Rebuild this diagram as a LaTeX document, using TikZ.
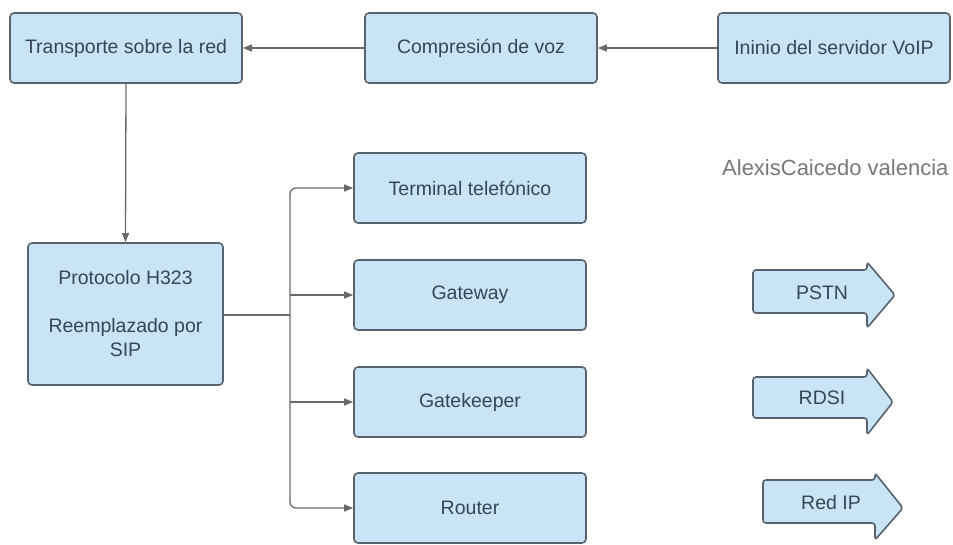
\documentclass[tikz,border=0pt]{standalone}
\usepackage{fontspec}
\setmainfont{Liberation Sans}
\usetikzlibrary{arrows.meta}
\definecolor{boxfill}{RGB}{200,228,246}
\definecolor{boxline}{RGB}{88,98,108}
\definecolor{boxtext}{RGB}{55,70,85}
\definecolor{conn}{RGB}{105,105,105}
\definecolor{sign}{RGB}{120,120,120}
\begin{document}
\begin{tikzpicture}[x=1pt,y=-1pt,
  stepbox/.style={draw=boxline,fill=boxfill,rounded corners=4pt,line width=1.6pt,
    text=boxtext,font=\fontsize{19.5}{24}\selectfont,align=center,inner sep=0pt,
    minimum width=232pt,minimum height=70pt},
  conn/.style={draw=conn,line width=1.3pt},
  arr/.style={conn,-{Triangle[length=9pt,width=7pt]}},
  blockarrow/.style={draw=boxline,fill=boxfill,line width=1.6pt,rounded corners=3pt},
  lbl/.style={text=boxtext,font=\fontsize{19.5}{24}\selectfont,inner sep=0pt}]
\useasboundingbox (0,0) rectangle (953,545);
\node[stepbox] (trans) at (126,48) {Transporte sobre la red};
\node[stepbox] (comp) at (481,48) {Compresión de voz};
\node[stepbox] (ini) at (834,48) {Ininio del servidor VoIP};
\node[stepbox,minimum width=195pt,minimum height=142pt] (h323) at (125.5,314) {Protocolo H323\\[24pt]Reemplazado por\\SIP};
\node[stepbox] (term) at (470,188) {Terminal telefónico};
\node[stepbox] (gw) at (470,295) {Gateway};
\node[stepbox] (gk) at (470,402) {Gatekeeper};
\node[stepbox] (rt) at (470,508) {Router};
\node[text=sign,font=\fontsize{22}{26}\selectfont,inner sep=0pt,anchor=west] (author) at (722,168) {AlexisCaicedo valencia};

\draw[arr] (ini.west) -- (comp.east);
\draw[arr] (comp.west) -- (trans.east);
\draw[arr] (trans.south) -- (h323.north);
\coordinate (j) at (290,315);
\draw[conn] (h323.east |- j) -- (j);
\draw[arr,rounded corners=6pt] (j) |- (term.west);
\draw[arr,rounded corners=6pt] (j) |- (rt.west);
\draw[arr] (j |- gw.west) -- (gw.west);
\draw[arr] (j |- gk.west) -- (gk.west);

\draw[blockarrow] (753,270) -- (867,270) -- (867,262) -- (895,295) -- (867,328) -- (867,313) -- (753,313) -- cycle;
\node[lbl] (pstn) at (822,293) {PSTN};
\draw[blockarrow] (753,377) -- (867,377) -- (867,368) -- (893,402) -- (867,435) -- (867,418) -- (753,418) -- cycle;
\node[lbl] (rdsi) at (822,398) {RDSI};
\draw[blockarrow] (763,480) -- (875,480) -- (875,473) -- (903,508) -- (875,540) -- (875,523) -- (763,523) -- cycle;
\node[lbl] (redip) at (831,503) {Red IP};
\end{tikzpicture}
\end{document}
